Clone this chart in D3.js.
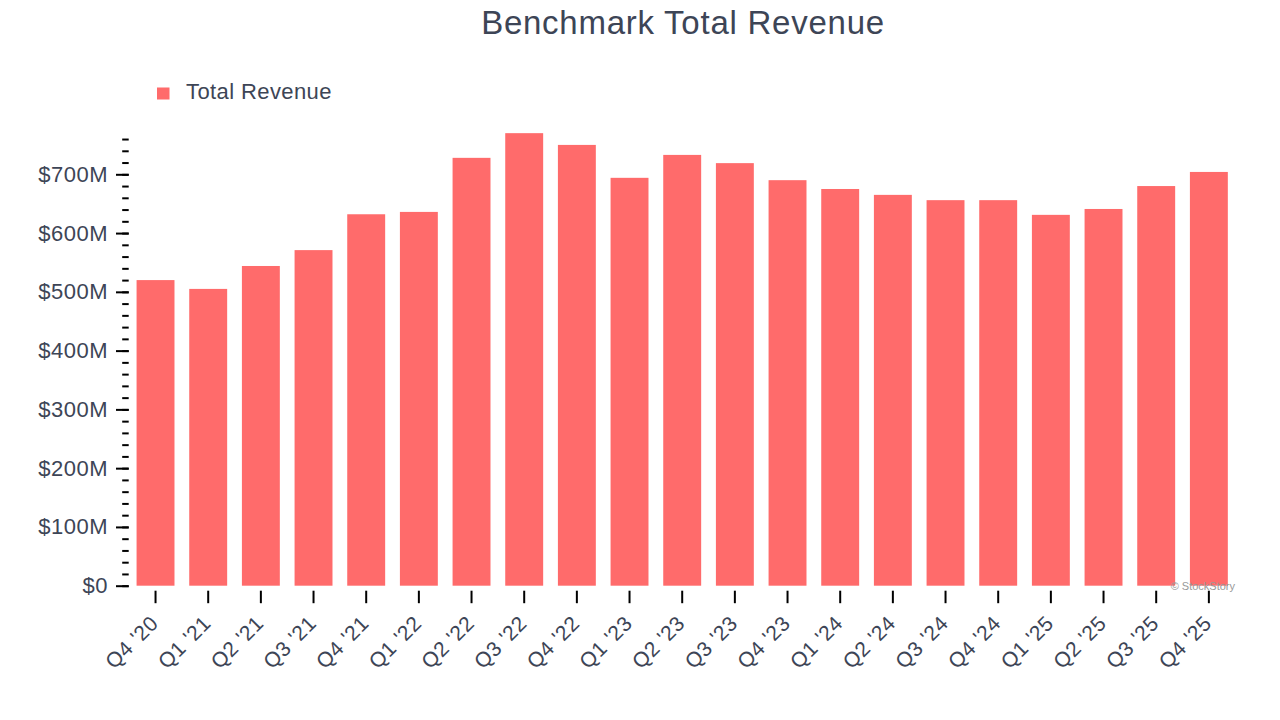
<!DOCTYPE html>
<html>
<head>
<meta charset="utf-8">
<script src="https://cdn.jsdelivr.net/npm/d3@7"></script>
<style>
  html, body { margin: 0; padding: 0; background: #fff; }
  svg { display: block; font-family: "Liberation Sans", Arial, Helvetica, sans-serif; }
</style>
</head>
<body>
<svg id="chart" width="1280" height="720"></svg>
<script>
const categories = ["Q4 '20","Q1 '21","Q2 '21","Q3 '21","Q4 '21","Q1 '22","Q2 '22","Q3 '22","Q4 '22","Q1 '23","Q2 '23","Q3 '23","Q4 '23","Q1 '24","Q2 '24","Q3 '24","Q4 '24","Q1 '25","Q2 '25","Q3 '25","Q4 '25"];
const revenue = [520, 505, 544, 571, 632, 636, 728, 770, 750, 694, 733, 719, 690, 675, 665, 656, 656, 631, 641, 680, 704];
const yMajorTicks = [0, 100, 200, 300, 400, 500, 600, 700];
const yMinorTicks = d3.range(0, 761, 20);
const titleText = "Benchmark Total Revenue";
const seriesName = "Total Revenue";

const svg = d3.select("#chart");
const barColor = "#ff6b6b";
const textColor = "#3d4556";

const x = d3.scaleBand()
  .domain(categories)
  .range([129.2, 1235.2])
  .paddingInner(0.28)
  .paddingOuter(0.14);

const y = d3.scaleLinear()
  .domain([0, 700])
  .range([585.7, 174.3]);

// title
svg.append("text")
  .attr("x", 683).attr("y", 34)
  .attr("text-anchor", "middle")
  .attr("font-size", 33)
  .attr("letter-spacing", 0.75)
  .attr("fill", textColor)
  .text(titleText);

// legend
svg.append("rect").attr("x", 157).attr("y", 87.5).attr("width", 12.5).attr("height", 12).attr("fill", barColor);
svg.append("text").attr("x", 186).attr("y", 99)
  .attr("font-size", 22).attr("letter-spacing", 0.4).attr("fill", textColor).text(seriesName);

// bars
svg.append("g").selectAll("rect")
  .data(revenue)
  .join("rect")
  .attr("x", (d, i) => x(categories[i]))
  .attr("width", x.bandwidth())
  .attr("y", d => y(d))
  .attr("height", d => y(0) - y(d))
  .attr("fill", barColor);

// y axis: minor ticks
const yAxisMinor = d3.axisLeft(y).tickValues(yMinorTicks).tickSize(6.5).tickFormat("");
const gMinor = svg.append("g").attr("transform", "translate(128.7,0)").call(yAxisMinor);
gMinor.select(".domain").remove();
gMinor.selectAll("line").attr("stroke", "#000").attr("stroke-width", 2);

const yAxisMajor = d3.axisLeft(y).tickValues(yMajorTicks).tickSize(12.7).tickPadding(8)
  .tickFormat(d => d === 0 ? "$0" : "$" + d + "M");
const gMajor = svg.append("g").attr("transform", "translate(128.7,0)").call(yAxisMajor);
gMajor.select(".domain").remove();
gMajor.selectAll("line").attr("stroke", "#000").attr("stroke-width", 2);
gMajor.selectAll("text").attr("font-size", 22).attr("letter-spacing", 0.5).attr("fill", textColor)
  .attr("font-family", "Liberation Sans, Arial, sans-serif");

// x axis
const xAxis = d3.axisBottom(x).tickSize(12.5).tickPadding(4);
const gx = svg.append("g").attr("transform", "translate(0,590.7)").call(xAxis);
gx.select(".domain").remove();
gx.selectAll("line").attr("stroke", "#000").attr("stroke-width", 2);
gx.selectAll("text")
  .attr("font-size", 21).attr("letter-spacing", 0.5).attr("fill", textColor)
  .attr("font-family", "Liberation Sans, Arial, sans-serif")
  .attr("text-anchor", "end")
  .attr("x", 0).attr("y", 0)
  .attr("dx", 0).attr("dy", 0)
  .attr("transform", "translate(4,34) rotate(-45)");

// watermark
svg.append("text").attr("x", 1235).attr("y", 590)
  .attr("text-anchor", "end").attr("font-size", 11).attr("fill", "#999")
  .text("© StockStory");
</script>
</body>
</html>
